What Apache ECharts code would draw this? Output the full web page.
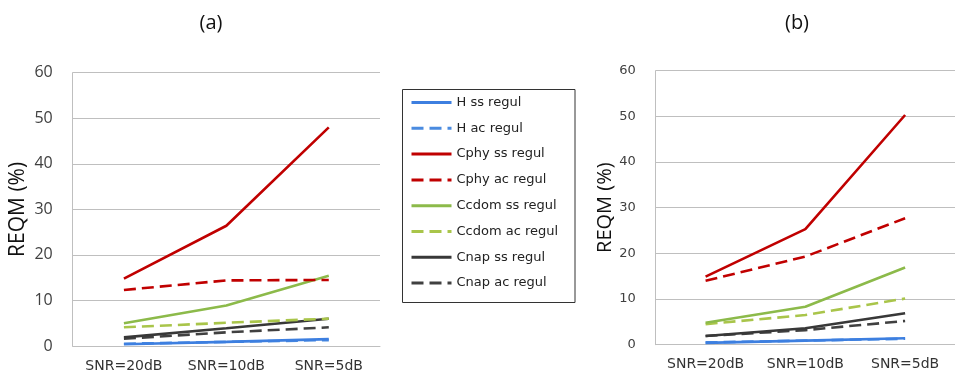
<!DOCTYPE html>
<html><head><meta charset="utf-8">
<script src="https://cdn.jsdelivr.net/npm/echarts@6/dist/echarts.min.js"></script>
<style>html,body{margin:0;padding:0;background:#fff}#c{width:955px;height:377px}</style>
</head><body><div id="c"></div>
<script>
const categories = ['SNR=20dB', 'SNR=10dB', 'SNR=5dB'];
const seriesNames = ['H ss regul', 'H ac regul', 'Cphy ss regul', 'Cphy ac regul', 'Ccdom ss regul', 'Ccdom ac regul', 'Cnap ss regul', 'Cnap ac regul'];
const yTicks = [0, 10, 20, 30, 40, 50, 60];
// chart (a)
const a_H_ss = [0.4, 0.9, 1.5];
const a_H_ac = [0.5, 0.9, 1.3];
const a_Cphy_ss = [14.8, 26.4, 48.0];
const a_Cphy_ac = [12.3, 14.4, 14.5];
const a_Ccdom_ss = [5.0, 8.9, 15.4];
const a_Ccdom_ac = [4.1, 5.1, 6.0];
const a_Cnap_ss = [1.9, 3.9, 6.0];
const a_Cnap_ac = [1.6, 3.0, 4.1];
// chart (b)
const b_H_ss = [0.4, 0.9, 1.4];
const b_H_ac = [0.5, 0.9, 1.3];
const b_Cphy_ss = [14.9, 25.3, 50.3];
const b_Cphy_ac = [14.0, 19.3, 27.7];
const b_Ccdom_ss = [4.8, 8.3, 16.9];
const b_Ccdom_ac = [4.5, 6.5, 10.1];
const b_Cnap_ss = [1.9, 3.6, 6.9];
const b_Cnap_ac = [1.9, 3.2, 5.2];

const dataA = [a_H_ss, a_H_ac, a_Cphy_ss, a_Cphy_ac, a_Ccdom_ss, a_Ccdom_ac, a_Cnap_ss, a_Cnap_ac];
const dataB = [b_H_ss, b_H_ac, b_Cphy_ss, b_Cphy_ac, b_Ccdom_ss, b_Ccdom_ac, b_Cnap_ss, b_Cnap_ac];
const colors = ['#3d7fe0', '#4a8be0', '#c00000', '#c00000', '#8cba4a', '#a9c54a', '#383838', '#404040'];
const dashed = [false, true, false, true, false, true, false, true];

const chart = echarts.init(document.getElementById('c'), null, {renderer: 'canvas'});

function xAx(idx, fs) {
  return {
    type: 'category', gridIndex: idx, data: categories, boundaryGap: true,
    axisLine: {show: true, lineStyle: {color: '#bfbfbf', width: 1}},
    axisTick: {show: false},
    axisLabel: {color: '#333', fontFamily: 'DejaVu Sans', fontSize: fs, margin: 13, interval: 0, hideOverlap: false},
    splitLine: {show: false}
  };
}
function yAx(idx, fs, ff, nameFs, gap) {
  return {
    type: 'value', gridIndex: idx, min: 0, max: 60, interval: 10,
    name: 'REQM (%)', nameLocation: 'middle', nameGap: gap,
    nameTextStyle: {fontFamily: 'Open Sans', fontSize: nameFs, color: '#111'},
    axisLine: {show: true, lineStyle: {color: '#bfbfbf', width: 1}},
    axisTick: {show: false},
    axisLabel: {color: '#404040', fontFamily: ff, fontSize: fs, margin: 20},
    splitLine: {show: true, lineStyle: {color: '#bfbfbf', width: 1}}
  };
}

const series = [];
[dataA, dataB].forEach((set, gi) => {
  set.forEach((vals, i) => {
    series.push({
      type: 'line', name: seriesNames[i], xAxisIndex: gi, yAxisIndex: gi,
      data: vals, symbol: 'none', showSymbol: false, z: 10 - i,
      color: colors[i],
      lineStyle: {color: colors[i], width: 2.6, type: dashed[i] ? [12, 6] : 'solid'}
    });
  });
});

chart.setOption({
  animation: false,
  title: [
    {text: '(a)', left: 206, top: 8, textAlign: 'center', textStyle: {fontFamily: 'Open Sans', fontSize: 20, fontWeight: 'normal', color: '#111'}},
    {text: '(b)', left: 792, top: 8, textAlign: 'center', textStyle: {fontFamily: 'Open Sans', fontSize: 20, fontWeight: 'normal', color: '#111'}}
  ],
  grid: [
    {left: 72.7, top: 72.7, width: 307.3, height: 273.3, containLabel: false},
    {left: 655.7, top: 70.7, width: 303, height: 274, containLabel: false}
  ],
  xAxis: [xAx(0, 14), xAx(1, 14)],
  yAxis: [yAx(0, 16, 'Open Sans', 21, 44), yAx(1, 13, 'DejaVu Sans', 20, 39)],
  legend: {
    orient: 'vertical', left: 403, top: 89, padding: [7, 8, 5, 7],
    itemWidth: 40, itemHeight: 14, itemGap: 12.8,
    data: seriesNames,
    itemStyle: {opacity: 0, borderWidth: 0},
    lineStyle: {width: 3},
    textStyle: {fontFamily: 'DejaVu Sans', fontSize: 13, color: '#222'}
  },
  graphic: [
    {type: 'rect', shape: {x: 402.5, y: 89.5, width: 172.5, height: 213}, style: {fill: 'none', stroke: '#333', lineWidth: 1}, z: 100, silent: true}
  ],
  series: series
});
</script>
</body></html>
